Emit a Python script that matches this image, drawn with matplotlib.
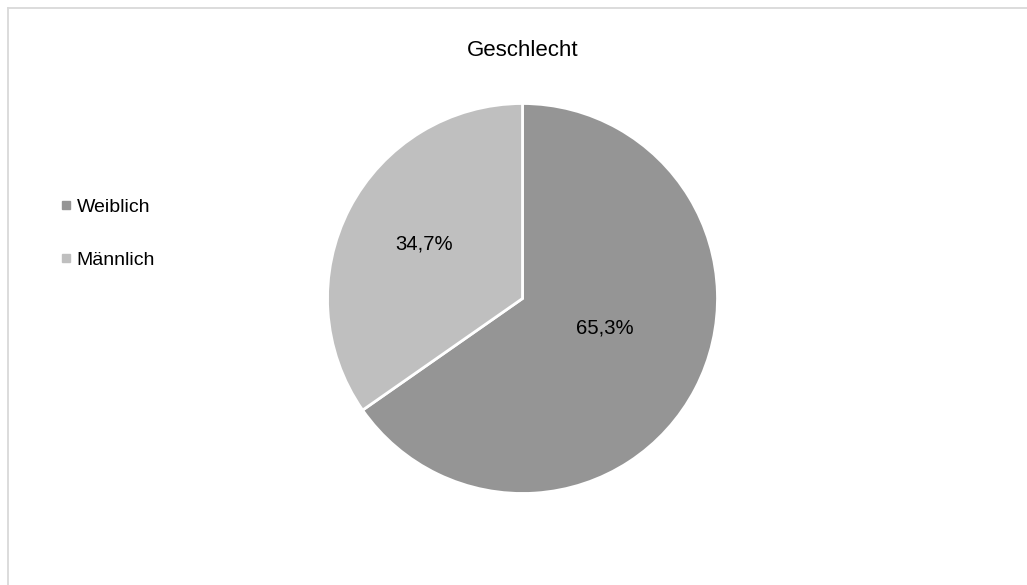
import numpy as np
import matplotlib
matplotlib.use("Agg")
import matplotlib.pyplot as plt
from matplotlib.lines import Line2D

plt.rcParams['font.family'] = ['Liberation Sans', 'DejaVu Sans']

title = "Geschlecht"
categories = ["Weiblich", "Männlich"]
shares = [65.3, 34.7]
colors = ["#959595", "#bfbfbf"]

W, H = 1027, 585
fig = plt.figure(figsize=(W / 100, H / 100), dpi=100)
fig.patch.set_facecolor("white")

# chart-area border (top and left edges visible)
fig.add_artist(Line2D([7.5 / W, 1.0], [1 - 7.5 / H, 1 - 7.5 / H],
                      transform=fig.transFigure, color="#d9d9d9", lw=1.3))
fig.add_artist(Line2D([7.5 / W, 7.5 / W], [0.0, 1 - 7.5 / H],
                      transform=fig.transFigure, color="#d9d9d9", lw=1.3))

# pie axes: centre (522.5, 298.5) px, radius 195 px
cx, cy, r = 522.5, 298.5, 195
ax = fig.add_axes([(cx - r) / W, (H - cy - r) / H, 2 * r / W, 2 * r / H])
wedges, _, autotexts = ax.pie(
    shares, colors=colors, startangle=90, counterclock=False,
    autopct=lambda p: f"{p:.1f}%".replace(".", ","),
    wedgeprops=dict(edgecolor="white", linewidth=2),
    textprops=dict(fontsize=14.6, color="#000000"),
)
ax.set_xlim(-1, 1)
ax.set_ylim(-1, 1)
ax.set_aspect("auto")
ax.axis("off")

# place value labels inside each slice
label_dist = [0.446, 0.577]
angle_shift = [7.9, -1.3]
for w, t, d, s in zip(wedges, autotexts, label_dist, angle_shift):
    mid = np.deg2rad((w.theta1 + w.theta2) / 2 + s)
    t.set_position((d * np.cos(mid), d * np.sin(mid)))
    t.set_ha("center")
    t.set_va("center")

fig.text(cx / W, 1 - 50 / H, title, ha="center", va="center", fontsize=16)

handles = [Line2D([], [], marker="s", linestyle="none", markersize=6,
                  markerfacecolor=c, markeredgecolor=c) for c in colors]
fig.legend(handles, categories, loc="center left",
           bbox_to_anchor=(60 / W, 1 - 233.5 / H), frameon=False,
           fontsize=14, handlelength=0.6, handletextpad=0.25,
           labelspacing=1.85, borderpad=0, borderaxespad=0)

fig.savefig("out.png", dpi=100, facecolor="white")
